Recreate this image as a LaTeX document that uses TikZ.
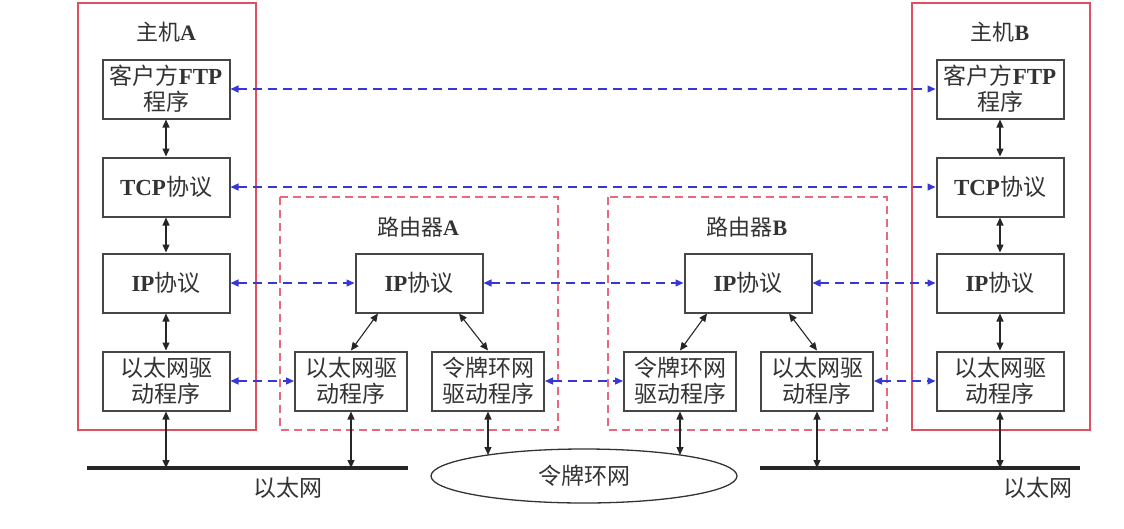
\documentclass[tikz,border=0pt]{standalone}
\usepackage{fontspec}
\setmainfont{Liberation Serif}
\newfontfamily\cjk{Noto Sans CJK SC}
\usepackage{tikz}
\usetikzlibrary{shapes.geometric,arrows.meta}
\definecolor{hostred}{RGB}{224,78,98}
\definecolor{routerred}{RGB}{230,105,125}
\definecolor{peerblue}{RGB}{55,55,215}
\definecolor{boxgray}{RGB}{70,70,70}
\newcommand{\zh}[1]{{\cjk #1}}

\begin{document}
\begin{tikzpicture}[x=1pt,y=-1pt,
		font=\fontsize{23}{26}\selectfont,text=black!80,
		layer/.style={draw=boxgray,line width=2pt,fill=white,align=center,minimum width=127pt,minimum height=59pt,inner sep=0pt},
		drv/.style={layer,minimum width=112pt},
		link/.style={{Triangle[length=8pt,width=7pt]}-{Triangle[length=8pt,width=7pt]},line width=1.1pt,black!85},
		peer/.style={{Triangle[length=8pt,width=7pt]}-{Triangle[length=8pt,width=7pt]},line width=1.3pt,peerblue,dash pattern=on 9pt off 6pt},
		title/.style={font=\fontsize{22}{26}\selectfont}]
		\useasboundingbox (0,0) rectangle (1124,528);
		% frames
		\draw[hostred,line width=1.6pt] (78,3) rectangle (256,430);
		\draw[hostred,line width=1.6pt] (912,3) rectangle (1090,430);
		\draw[routerred,line width=1.4pt,dash pattern=on 8pt off 5pt] (280,197) rectangle (558,430);
		\draw[routerred,line width=1.4pt,dash pattern=on 8pt off 5pt] (608,197) rectangle (887,430);
		\node[title] (tA) at (166,32) {\zh{主机}\textbf{A}};
		\node[title] (tB) at (1000,32) {\zh{主机}\textbf{B}};
		\node[title] (tRA) at (418,227) {\zh{路由器}\textbf{A}};
		\node[title] (tRB) at (747,227) {\zh{路由器}\textbf{B}};
		% host A
		\node[layer] (ftpA) at (166,89) {\zh{客户方}\textbf{FTP}\\\zh{程序}};
		\node[layer] (tcpA) at (166,187) {\textbf{TCP}\zh{协议}};
		\node[layer] (ipA) at (166,283) {\textbf{IP}\zh{协议}};
		\node[layer] (ethA) at (166,381) {\zh{以太网驱}\\\zh{动程序}};
		% host B
		\node[layer] (ftpB) at (1000,89) {\zh{客户方}\textbf{FTP}\\\zh{程序}};
		\node[layer] (tcpB) at (1000,187) {\textbf{TCP}\zh{协议}};
		\node[layer] (ipB) at (1000,283) {\textbf{IP}\zh{协议}};
		\node[layer] (ethB) at (1000,381) {\zh{以太网驱}\\\zh{动程序}};
		% routers
		\node[layer] (ipRA) at (419,283) {\textbf{IP}\zh{协议}};
		\node[drv] (ethRA) at (351,381) {\zh{以太网驱}\\\zh{动程序}};
		\node[drv] (tokRA) at (488,381) {\zh{令牌环网}\\\zh{驱动程序}};
		\node[layer] (ipRB) at (748,283) {\textbf{IP}\zh{协议}};
		\node[drv] (tokRB) at (680,381) {\zh{令牌环网}\\\zh{驱动程序}};
		\node[drv] (ethRB) at (817,381) {\zh{以太网驱}\\\zh{动程序}};
		% networks
		\node[draw=black!80,line width=1.3pt,ellipse,minimum width=306pt,minimum height=54pt] (ring) at (584,476) {\zh{令牌环网}};
		\coordinate (lanA1) at (87,468);
		\coordinate (lanA2) at (408,468);
		\coordinate (lanB1) at (760,468);
		\coordinate (lanB2) at (1080,468);
		\coordinate (ringA) at (488,455);
		\coordinate (ringB) at (680,455);
		\draw[line width=3.5pt,black!85] (lanA1) -- (lanA2);
		\draw[line width=3.5pt,black!85] (lanB1) -- (lanB2);
		\node (lanA) at (288,488) {\zh{以太网}};
		\node (lanB) at (1038,488) {\zh{以太网}};
		% vertical links
		\draw[link] (ftpA) -- (tcpA);
		\draw[link] (tcpA) -- (ipA);
		\draw[link] (ipA) -- (ethA);
		\draw[link] (ftpB) -- (tcpB);
		\draw[link] (tcpB) -- (ipB);
		\draw[link] (ipB) -- (ethB);
		\draw[link] (ethA) -- (ethA |- lanA1);
		\draw[link] (ethRA) -- (ethRA |- lanA1);
		\draw[link] (ethRB) -- (ethRB |- lanB1);
		\draw[link] (ethB) -- (ethB |- lanB1);
		\draw[link] (tokRA) -- (ringA);
		\draw[link] (tokRB) -- (ringB);
		\draw[link] ([xshift=-41pt]ipRA.south) -- (ethRA.north);
		\draw[link] ([xshift=40pt]ipRA.south) -- (tokRA.north);
		\draw[link] ([xshift=-41pt]ipRB.south) -- (tokRB.north);
		\draw[link] ([xshift=41pt]ipRB.south) -- (ethRB.north);
		% peer links
		\draw[peer] (ftpA) -- (ftpB);
		\draw[peer] (tcpA) -- (tcpB);
		\draw[peer] (ipA) -- (ipRA);
		\draw[peer] (ipRA) -- (ipRB);
		\draw[peer] (ipRB) -- (ipB);
		\draw[peer] (ethA) -- (ethRA);
		\draw[peer] (tokRA) -- (tokRB);
		\draw[peer] (ethRB) -- (ethB);
\end{tikzpicture}
\end{document}
